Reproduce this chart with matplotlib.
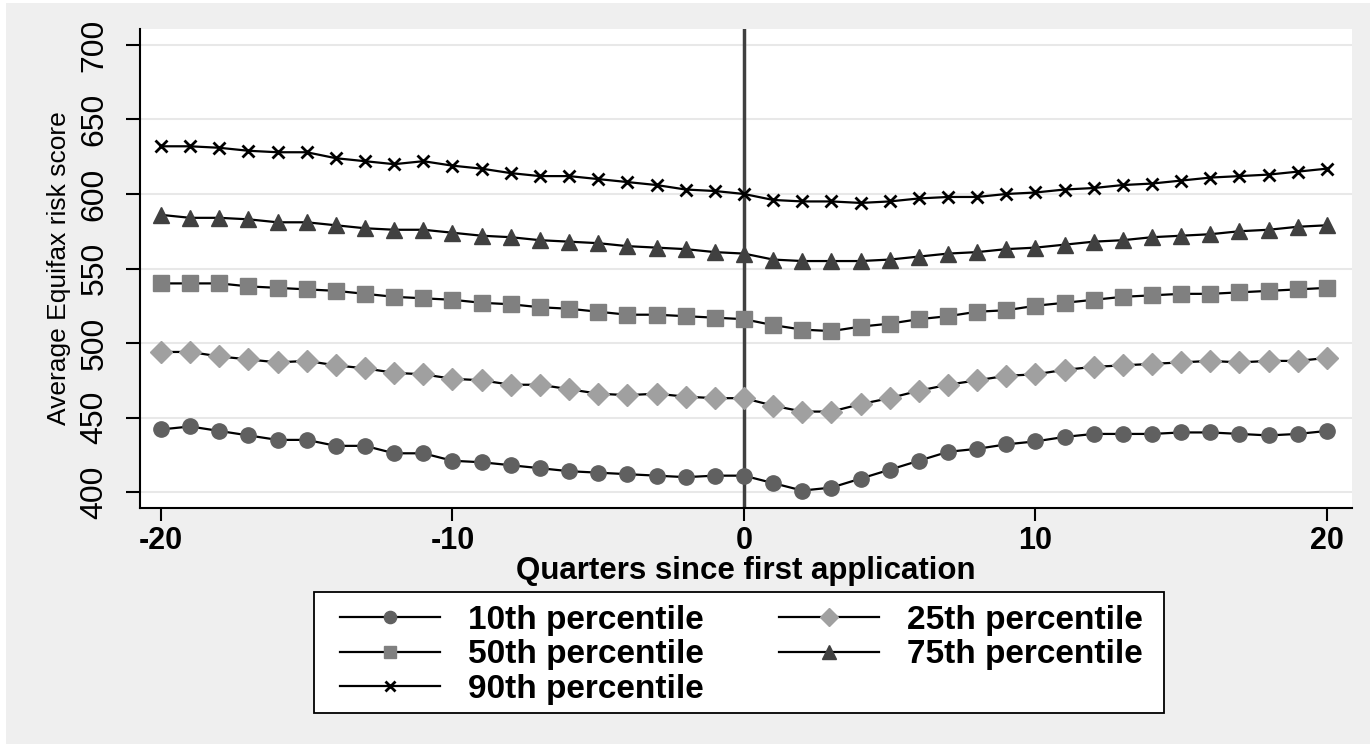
import numpy as np
import matplotlib
matplotlib.use("Agg")
import matplotlib.pyplot as plt
from matplotlib.patches import Rectangle
from matplotlib.lines import Line2D

# quarters relative to first application
quarters = list(range(-20, 21))

p10 = [442, 444, 441, 438, 435, 435, 431, 431, 426, 426, 421, 420, 418, 416, 414, 413, 412, 411, 410, 411,
       411, 406, 401, 403, 409, 415, 421, 427, 429, 432, 434, 437, 439, 439, 439, 440, 440, 439, 438, 439, 441]
p25 = [494, 494, 491, 489, 487, 488, 485, 483, 480, 479, 476, 475, 472, 472, 469, 466, 465, 466, 464, 463,
       463, 458, 454, 454, 459, 463, 468, 472, 475, 478, 479, 482, 484, 485, 486, 487, 488, 487, 488, 488, 490]
p50 = [540, 540, 540, 538, 537, 536, 535, 533, 531, 530, 529, 527, 526, 524, 523, 521, 519, 519, 518, 517,
       516, 512, 509, 508, 511, 513, 516, 518, 521, 522, 525, 527, 529, 531, 532, 533, 533, 534, 535, 536, 537]
p75 = [586, 584, 584, 583, 581, 581, 579, 577, 576, 576, 574, 572, 571, 569, 568, 567, 565, 564, 563, 561,
       560, 556, 555, 555, 555, 556, 558, 560, 561, 563, 564, 566, 568, 569, 571, 572, 573, 575, 576, 578, 579]
p90 = [632, 632, 631, 629, 628, 628, 624, 622, 620, 622, 619, 617, 614, 612, 612, 610, 608, 606, 603, 602,
       600, 596, 595, 595, 594, 595, 597, 598, 598, 600, 601, 603, 604, 606, 607, 609, 611, 612, 613, 615, 617]

labels = ["10th percentile", "25th percentile", "50th percentile", "75th percentile", "90th percentile"]
yticks = [400, 450, 500, 550, 600, 650, 700]
xticks = [-20, -10, 0, 10, 20]

W, H = 1370, 744
bg = "#EFEFEF"
fig = plt.figure(figsize=(13.7, 7.44), dpi=100, facecolor="white")
fig.patches.append(Rectangle((6 / W, 0), 1, 1 - 3 / H, transform=fig.transFigure,
                             facecolor=bg, edgecolor="none", zorder=-10))

ax = fig.add_axes([140 / W, 1 - 508 / H, (1352 - 140) / W, (508 - 29) / H])
ax.set_facecolor("white")

styles = [
    dict(marker="o", ms=11, mfc="#606060", mec="#606060"),
    dict(marker="D", ms=11, mfc="#A0A0A0", mec="#A0A0A0"),
    dict(marker="s", ms=11, mfc="#808080", mec="#808080"),
    dict(marker="^", ms=12, mfc="#404040", mec="#404040"),
    dict(marker="x", ms=9, mfc="black", mec="black", mew=2),
]
series = [p10, p25, p50, p75, p90]

handles = []
for vals, lab, st in zip(series, labels, styles):
    ax.plot(quarters, vals, color="black", lw=1.6, zorder=3, **st)
    hst = dict(st)
    hst["ms"] = st["ms"] * 0.8
    handles.append(Line2D([], [], color="black", lw=1.6, label=lab, **hst))

ax.axvline(0, color="#404040", lw=2.5, zorder=2)

ax.set_xlim(-20.72, 20.86)
ax.set_ylim(389.3, 710.7)
ax.set_xticks(xticks)
ax.set_yticks(yticks)
ax.grid(axis="y", color="#E8E8E8", lw=1.5)
ax.set_axisbelow(True)

for s in ["top", "right"]:
    ax.spines[s].set_visible(False)
for s in ["left", "bottom"]:
    ax.spines[s].set_linewidth(1.5)
ax.tick_params(axis="y", direction="out", length=10, width=1.5, pad=12)
ax.tick_params(axis="x", direction="out", length=9, width=1.5, pad=4)

narrow = ["Liberation Sans Narrow", "Liberation Sans", "DejaVu Sans"]
ax.set_xticklabels([str(v) for v in xticks], fontfamily="Liberation Sans", fontweight="bold", fontsize=22)
ax.set_yticklabels([str(v) for v in yticks], fontfamily=narrow, fontsize=23, rotation=90, va="center")
ax.set_xlabel("Quarters since first application", fontfamily="Liberation Sans", fontweight="bold",
              fontsize=22.5, labelpad=0)
ax.set_ylabel("Average Equifax risk score", fontfamily=narrow, fontsize=19, labelpad=6)

# legend frame drawn separately: Stata pads more sideways than on top
fig.patches.append(Rectangle((314 / W, 1 - 713 / H), (1164 - 314) / W, (713 - 592) / H,
                             transform=fig.transFigure, facecolor="white", edgecolor="black",
                             lw=1.3, zorder=1))

# Stata fills the legend row by row, matplotlib column by column
order = [0, 2, 4, 1, 3]
leg = fig.legend(handles=[handles[i] for i in order], loc="upper left",
                 bbox_to_anchor=(340 / W, 1 - 605 / H), borderaxespad=0, borderpad=0,
                 ncol=2, frameon=False,
                 prop=dict(family="Liberation Sans", weight="bold", size=24),
                 handlelength=3.0, handletextpad=0.84, columnspacing=2.25, labelspacing=0.1)
leg.set_zorder(2)

fig.savefig("out.png", dpi=100, facecolor=fig.get_facecolor())
